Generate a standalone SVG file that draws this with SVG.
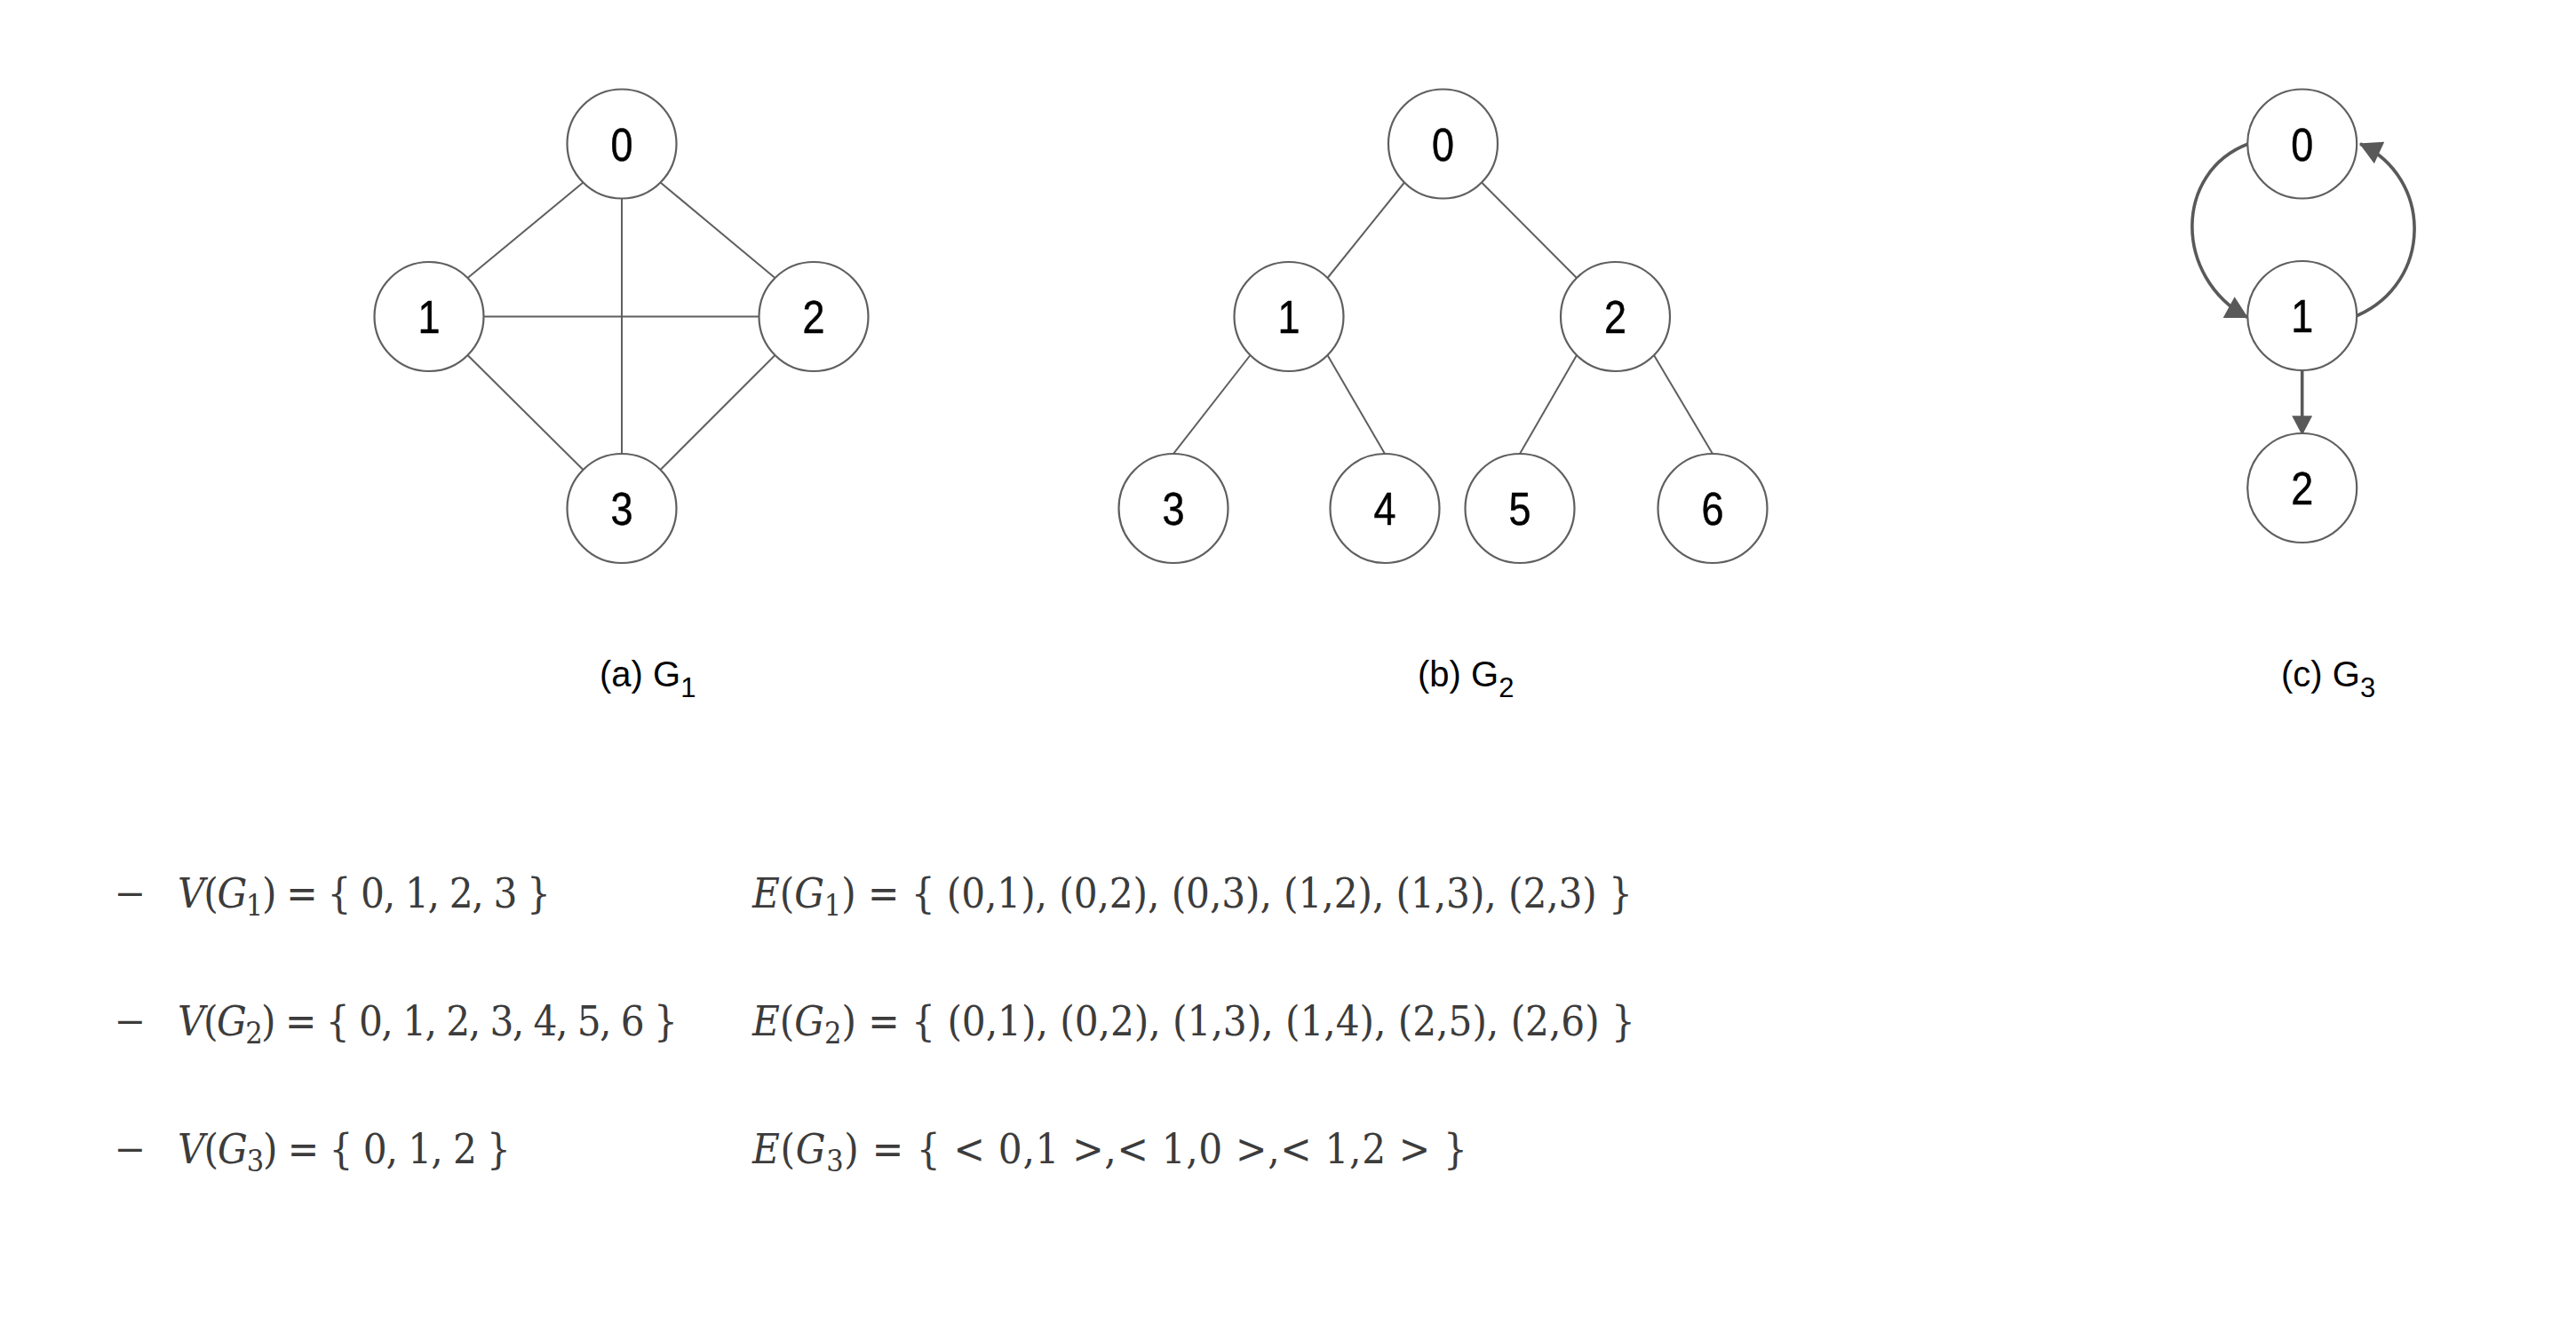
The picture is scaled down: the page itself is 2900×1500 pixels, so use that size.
<svg xmlns="http://www.w3.org/2000/svg" width="2900" height="1500" viewBox="0 0 2900 1500">
<style>
.node circle{fill:#ffffff;stroke:#5f5f5f;stroke-width:2.2}
.node text{font-family:"Liberation Sans",Arial,sans-serif;font-size:52px;fill:#000;text-anchor:middle;stroke:#000;stroke-width:0.5}
.edge{stroke:#5f5f5f;stroke-width:2;fill:none}
.arc{stroke:#595959;stroke-width:3.6;fill:none}
.cap{font-family:"Liberation Sans",Arial,sans-serif;font-size:40px;fill:#000}
.sub{font-size:31px}
.math{font-family:"DejaVu Serif Condensed","DejaVu Serif",serif;font-stretch:condensed;font-size:47px;fill:#3c3c3c}
.dash{font-family:"Liberation Sans",Arial,sans-serif;font-size:48px;fill:#3c3c3c}
.it{font-style:italic}
.msub{font-size:34px}
</style>
<defs>
<marker id="arrow" markerUnits="userSpaceOnUse" markerWidth="26" markerHeight="27" viewBox="0 0 23 25" refX="22" refY="12.5" orient="auto">
<path d="M0,0 L23,12.5 L0,25 z" fill="#595959"/>
</marker>
<marker id="arrow2" markerUnits="userSpaceOnUse" markerWidth="22" markerHeight="23" viewBox="0 0 20 21" refX="19" refY="10.5" orient="auto">
<path d="M0,0 L20,10.5 L0,21 z" fill="#595959"/>
</marker>
</defs>
<rect width="2900" height="1500" fill="#ffffff"/>

<g id="connectors">
<g id="g1-edges">
<line class="edge" x1="656.5" y1="205.5" x2="526.5" y2="313"/>
<line class="edge" x1="743.5" y1="205.5" x2="872.5" y2="313"/>
<line class="edge" x1="700" y1="223.5" x2="700" y2="511"/>
<line class="edge" x1="544.5" y1="356.5" x2="854.5" y2="356.5"/>
<line class="edge" x1="526.5" y1="400" x2="656.5" y2="529"/>
<line class="edge" x1="872.5" y1="400" x2="743.5" y2="529"/>
</g>
<g id="g2-edges">
<line class="edge" x1="1581" y1="205.5" x2="1494.5" y2="313"/>
<line class="edge" x1="1668" y1="205.5" x2="1775" y2="313"/>
<line class="edge" x1="1407.5" y1="400" x2="1321" y2="511"/>
<line class="edge" x1="1494.5" y1="400" x2="1559" y2="511"/>
<line class="edge" x1="1775" y1="400" x2="1711" y2="511"/>
<line class="edge" x1="1862" y1="400" x2="1928" y2="511"/>
</g>
<g id="g3-edges">
<path class="arc" d="M2531,162 C2447,194 2447,312 2530,357.5" marker-end="url(#arrow)"/>
<path class="arc" d="M2653.5,355.5 C2739,318 2739,200 2657,162" marker-end="url(#arrow)"/>
<path class="arc" d="M2591.7,417 L2591.7,489" marker-end="url(#arrow2)"/>
</g>
</g>

<g id="g1-n0" class="node"><circle cx="700" cy="162" r="61.5"/><text x="700" y="180.5" textLength="25" lengthAdjust="spacingAndGlyphs">0</text></g>
<g id="g1-n1" class="node"><circle cx="483" cy="356.5" r="61.5"/><text x="483" y="375" textLength="25" lengthAdjust="spacingAndGlyphs">1</text></g>
<g id="g1-n2" class="node"><circle cx="916" cy="356.5" r="61.5"/><text x="916" y="375" textLength="25" lengthAdjust="spacingAndGlyphs">2</text></g>
<g id="g1-n3" class="node"><circle cx="700" cy="572.5" r="61.5"/><text x="700" y="591" textLength="25" lengthAdjust="spacingAndGlyphs">3</text></g>

<g id="g2-n0" class="node"><circle cx="1624.5" cy="162" r="61.5"/><text x="1624.5" y="180.5" textLength="25" lengthAdjust="spacingAndGlyphs">0</text></g>
<g id="g2-n1" class="node"><circle cx="1451" cy="356.5" r="61.5"/><text x="1451" y="375" textLength="25" lengthAdjust="spacingAndGlyphs">1</text></g>
<g id="g2-n2" class="node"><circle cx="1818.5" cy="356.5" r="61.5"/><text x="1818.5" y="375" textLength="25" lengthAdjust="spacingAndGlyphs">2</text></g>
<g id="g2-n3" class="node"><circle cx="1321" cy="572.5" r="61.5"/><text x="1321" y="591" textLength="25" lengthAdjust="spacingAndGlyphs">3</text></g>
<g id="g2-n4" class="node"><circle cx="1559" cy="572.5" r="61.5"/><text x="1559" y="591" textLength="25" lengthAdjust="spacingAndGlyphs">4</text></g>
<g id="g2-n5" class="node"><circle cx="1711" cy="572.5" r="61.5"/><text x="1711" y="591" textLength="25" lengthAdjust="spacingAndGlyphs">5</text></g>
<g id="g2-n6" class="node"><circle cx="1928" cy="572.5" r="61.5"/><text x="1928" y="591" textLength="25" lengthAdjust="spacingAndGlyphs">6</text></g>

<g id="g3-n0" class="node"><circle cx="2591.7" cy="162" r="61.5"/><text x="2591.7" y="180.5" textLength="25" lengthAdjust="spacingAndGlyphs">0</text></g>
<g id="g3-n1" class="node"><circle cx="2591.7" cy="355.5" r="61.5"/><text x="2591.7" y="374" textLength="25" lengthAdjust="spacingAndGlyphs">1</text></g>
<g id="g3-n2" class="node"><circle cx="2591.7" cy="549.5" r="61.5"/><text x="2591.7" y="568" textLength="25" lengthAdjust="spacingAndGlyphs">2</text></g>

<g id="captions">
<text class="cap" x="675" y="773">(a) G<tspan class="sub" dy="12">1</tspan></text>
<text class="cap" x="1596" y="773">(b) G<tspan class="sub" dy="12">2</tspan></text>
<text class="cap" x="2568" y="773">(c) G<tspan class="sub" dy="12">3</tspan></text>
</g>

<g id="definitions">
<text class="dash" x="133" y="1020">–</text>
<text class="dash" x="133" y="1164">–</text>
<text class="dash" x="133" y="1308">–</text>

<text class="math" x="200" y="1022" textLength="420" lengthAdjust="spacing"><tspan class="it">V</tspan>(<tspan class="it">G</tspan><tspan class="msub" dy="9">1</tspan><tspan dy="-9">) = { 0, 1, 2, 3 }</tspan></text>
<text class="math" x="200" y="1166" textLength="563" lengthAdjust="spacing"><tspan class="it">V</tspan>(<tspan class="it">G</tspan><tspan class="msub" dy="9">2</tspan><tspan dy="-9">) = { 0, 1, 2, 3, 4, 5, 6 }</tspan></text>
<text class="math" x="200" y="1310" textLength="375" lengthAdjust="spacing"><tspan class="it">V</tspan>(<tspan class="it">G</tspan><tspan class="msub" dy="9">3</tspan><tspan dy="-9">) = { 0, 1, 2 }</tspan></text>

<text class="math" x="847" y="1022" textLength="991" lengthAdjust="spacing"><tspan class="it">E</tspan>(<tspan class="it">G</tspan><tspan class="msub" dy="9">1</tspan><tspan dy="-9">) = { (0,1), (0,2), (0,3), (1,2), (1,3), (2,3) }</tspan></text>
<text class="math" x="847" y="1166" textLength="994" lengthAdjust="spacing"><tspan class="it">E</tspan>(<tspan class="it">G</tspan><tspan class="msub" dy="9">2</tspan><tspan dy="-9">) = { (0,1), (0,2), (1,3), (1,4), (2,5), (2,6) }</tspan></text>
<text class="math" x="847" y="1310" textLength="805" lengthAdjust="spacing"><tspan class="it">E</tspan>(<tspan class="it">G</tspan><tspan class="msub" dy="9">3</tspan><tspan dy="-9">) = { &lt; 0,1 &gt;,&lt; 1,0 &gt;,&lt; 1,2 &gt; }</tspan></text>
</g>
</svg>
